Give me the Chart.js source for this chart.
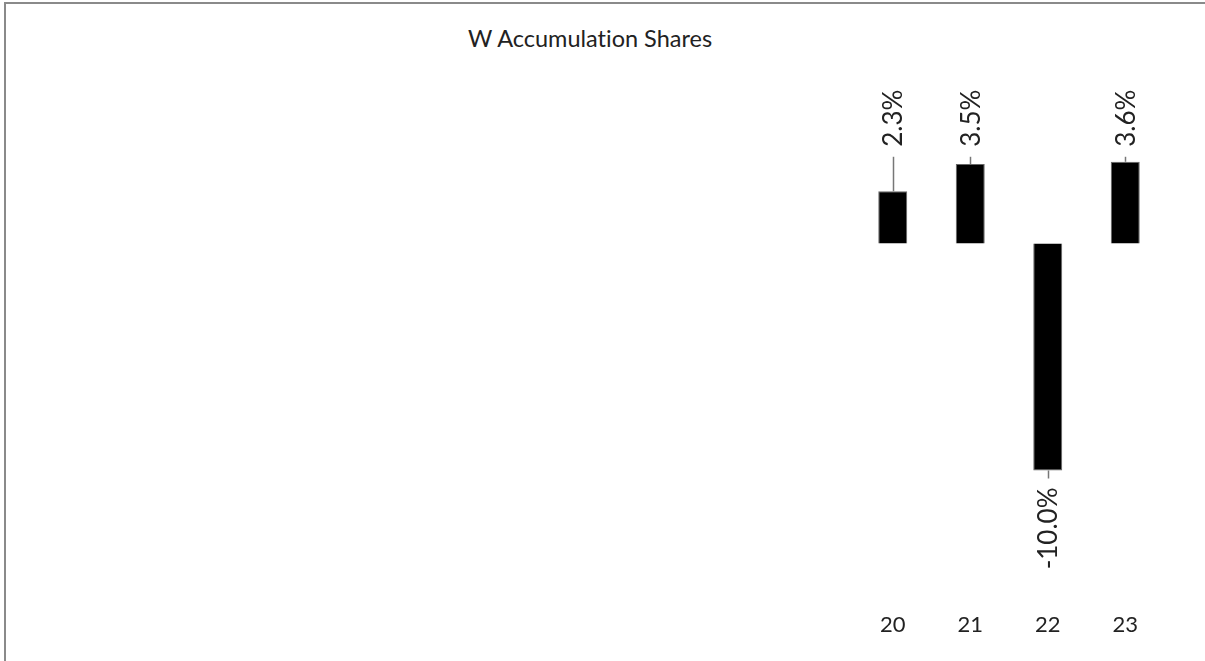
<!DOCTYPE html>
<html>
<head>
<meta charset="utf-8">
<script src="https://cdn.jsdelivr.net/npm/chart.js@4/dist/chart.umd.min.js"></script>
<style>
  html, body { margin: 0; padding: 0; background: #fff; overflow: hidden; }
  #wrap { position: relative; width: 1205px; height: 661px; }
  #frame { position: absolute; left: 4px; top: 2px; width: 1300px; height: 700px;
           border-left: 2px solid #8a8a8a; border-top: 2px solid #8a8a8a; }
  #title { position: absolute; left: 0; width: 1180px; top: 24px; text-align: center;
           font-family: Lato, "Noto Sans", sans-serif; font-size: 23.5px; color: #222;
           font-variant-ligatures: none; }
  #c { position: absolute; left: 0; top: 0; }
</style>
</head>
<body>
<div id="wrap">
  <div id="frame"></div>
  <div id="title">W Accumulation Shares</div>
  <canvas id="c" width="1205" height="661"></canvas>
</div>
<script>
const categories = ["20", "21", "22", "23"];
const values = [2.3, 3.5, -10.0, 3.6];
const valueLabels = ["2.3%", "3.5%", "-10.0%", "3.6%"];

const labelPlugin = {
  id: 'valueLabels',
  afterDatasetsDraw(chart) {
    const ctx = chart.ctx;
    const meta = chart.getDatasetMeta(0);
    const ys = chart.scales.y;
    const data = chart.data.datasets[0].data;
    const maxPos = Math.max(...data.filter(v => v >= 0));
    const minNeg = Math.min(...data.filter(v => v < 0));
    const topY = ys.getPixelForValue(maxPos) - 5;
    const botY = ys.getPixelForValue(minNeg) + 8;
    ctx.save();
    ctx.font = '26px Lato, "Noto Sans", sans-serif';
    ctx.fillStyle = '#222';
    ctx.strokeStyle = '#777';
    ctx.lineWidth = 1.5;
    meta.data.forEach((bar, i) => {
      const v = data[i];
      const x = Math.round(bar.x) + 0.5;
      ctx.beginPath();
      ctx.moveTo(x, bar.y);
      ctx.lineTo(x, v >= 0 ? topY : botY);
      ctx.stroke();
      ctx.save();
      if (v >= 0) {
        ctx.translate(bar.x + 1, topY - 10);
        ctx.rotate(-Math.PI / 2);
        ctx.textAlign = 'left';
      } else {
        ctx.translate(bar.x + 1, botY + 9);
        ctx.rotate(-Math.PI / 2);
        ctx.textAlign = 'right';
      }
      ctx.textBaseline = 'middle';
      ctx.fillText(valueLabels[i], 0, 0);
      ctx.restore();
    });
    ctx.restore();
  }
};

new Chart(document.getElementById('c'), {
  type: 'bar',
  data: {
    labels: categories,
    datasets: [{
      data: values,
      backgroundColor: '#000',
      borderColor: '#666',
      borderWidth: 1,
      categoryPercentage: 1,
      barPercentage: 0.374
    }]
  },
  options: {
    responsive: false,
    animation: false,
    devicePixelRatio: 1,
    layout: { padding: { left: 854, right: 41, top: 130, bottom: 21 } },
    plugins: { legend: { display: false }, tooltip: { enabled: false }, title: { display: false } },
    scales: {
      x: {
        grid: { display: false, drawTicks: false },
        border: { display: false },
        ticks: { color: '#222', padding: 28, font: { family: 'Lato, "Noto Sans", sans-serif', size: 22 } },
        afterFit(scale) { scale.height = 56; }
      },
      y: {
        display: false,
        min: -15,
        max: 5
      }
    }
  },
  plugins: [labelPlugin]
});
</script>
</body>
</html>
